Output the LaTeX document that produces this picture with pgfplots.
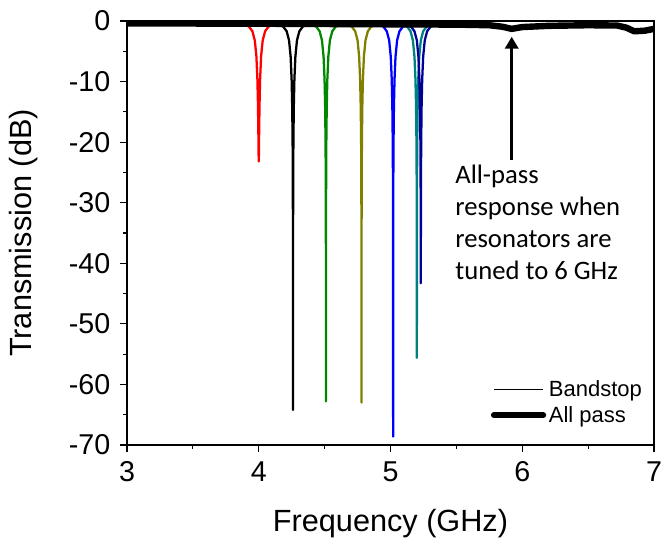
\documentclass[border=0pt]{standalone}
\usepackage{pgfplots}
\pgfplotsset{compat=1.18}
\usetikzlibrary{arrows.meta}
\usepackage{fontspec}
\setmainfont{Liberation Sans}
\newfontfamily\calib{Carlito}
\definecolor{cgreen}{RGB}{0,135,0}
\definecolor{colive}{RGB}{128,128,0}
\definecolor{cteal}{RGB}{0,128,128}
\definecolor{cnavy}{RGB}{0,0,150}
\begin{document}
\begin{tikzpicture}
\begin{axis}[
  scale only axis, width=395.25pt, height=318pt,
  xmin=3, xmax=7, ymin=-70, ymax=0,
  xtick={3,4,5,6,7}, ytick={-70,-60,-50,-40,-30,-20,-10,0},
  minor x tick num=1, minor y tick num=1,
  tick align=outside, xtick pos=bottom, ytick pos=left,
  major tick length=5.5pt, minor tick length=3pt,
  axis line style={line width=1pt},
  tick style={black, line width=0.9pt},
  /pgf/number format/assume math mode=true,
  ticklabel style={font=\fontsize{21.5}{25}\selectfont},
  yticklabel style={xshift=-3.5pt},
  xticklabel style={yshift=-3.5pt},
  xlabel={Frequency (GHz)}, ylabel={Transmission (dB)},
  label style={font=\fontsize{23}{27}\selectfont},
  xlabel style={at={(axis description cs:0.5,-0.185)}, anchor=center},
  ylabel style={at={(axis description cs:-0.196,0.5)}, anchor=center},
  legend style={at={(axis description cs:0.69,0.158)}, anchor=north west, draw=none, fill=none,
    font=\fontsize{16.5}{19}\selectfont, row sep=1.5pt, inner sep=0pt},
  legend cell align=left,
  legend image code/.code={\draw[#1] (0pt,0pt)--(37pt,0pt);},
  every axis plot/.append style={line join=round},
]
% red
\addplot[red, line width=1.7pt, forget plot] coordinates {
(3.64,-0.4)(3.79,-0.45)(3.88,-0.6)(3.925,-0.9)(3.952,-1.7)(3.97,-3.2)(3.982,-5.8)(3.9895,-9.5)(3.994,-13.7)(3.997,-18.3)(3.9985,-21.3)(3.9994,-22.7)(3.9997,-23.0)(4.00,-23.2)(4.0003,-23.0)(4.0006,-22.7)(4.0015,-21.3)(4.003,-18.3)(4.006,-13.7)(4.0105,-9.5)(4.018,-5.8)(4.03,-3.2)(4.048,-1.7)(4.075,-0.9)(4.12,-0.6)(4.21,-0.45)(4.36,-0.4)};
% black
\addplot[black, line width=1.7pt, forget plot] coordinates {
(3.90,-0.4)(4.05,-0.45)(4.14,-0.6)(4.185,-0.9)(4.212,-1.7)(4.23,-3.2)(4.242,-5.9)(4.2495,-9.7)(4.254,-14.2)(4.257,-20.0)(4.2585,-26.0)(4.2594,-34.0)(4.2597,-40.0)(4.26,-64.2)(4.2603,-40.0)(4.2606,-34.0)(4.2615,-26.0)(4.263,-20.0)(4.266,-14.2)(4.2705,-9.7)(4.278,-5.9)(4.29,-3.2)(4.308,-1.7)(4.335,-0.9)(4.38,-0.6)(4.47,-0.45)(4.62,-0.4)};
% green
\addplot[cgreen, line width=1.7pt, forget plot] coordinates {
(4.15,-0.4)(4.30,-0.45)(4.39,-0.6)(4.435,-0.9)(4.462,-1.7)(4.48,-3.2)(4.492,-5.9)(4.4995,-9.7)(4.504,-14.2)(4.507,-20.0)(4.5085,-26.0)(4.5094,-34.0)(4.5097,-40.0)(4.51,-62.8)(4.5103,-40.0)(4.5106,-34.0)(4.5115,-26.0)(4.513,-20.0)(4.516,-14.2)(4.5205,-9.7)(4.528,-5.9)(4.54,-3.2)(4.558,-1.7)(4.585,-0.9)(4.63,-0.6)(4.72,-0.45)(4.87,-0.4)};
% olive
\addplot[colive, line width=1.7pt, forget plot] coordinates {
(4.42,-0.4)(4.57,-0.45)(4.66,-0.6)(4.705,-0.9)(4.732,-1.7)(4.75,-3.2)(4.762,-5.9)(4.7695,-9.7)(4.774,-14.2)(4.777,-20.0)(4.7785,-26.0)(4.7794,-34.0)(4.7797,-40.0)(4.78,-63.0)(4.7803,-40.0)(4.7806,-34.0)(4.7815,-26.0)(4.783,-20.0)(4.786,-14.2)(4.7905,-9.7)(4.798,-5.9)(4.81,-3.2)(4.828,-1.7)(4.855,-0.9)(4.90,-0.6)(4.99,-0.45)(5.14,-0.4)};
% blue
\addplot[blue, line width=1.7pt, forget plot] coordinates {
(4.66,-0.4)(4.81,-0.45)(4.90,-0.6)(4.945,-0.9)(4.972,-1.7)(4.99,-3.2)(5.002,-5.9)(5.0095,-9.7)(5.014,-14.2)(5.017,-20.0)(5.0185,-26.0)(5.0194,-34.0)(5.0197,-40.0)(5.02,-68.6)(5.0203,-40.0)(5.0206,-34.0)(5.0215,-26.0)(5.023,-20.0)(5.026,-14.2)(5.0305,-9.7)(5.038,-5.9)(5.05,-3.2)(5.068,-1.7)(5.095,-0.9)(5.14,-0.6)(5.23,-0.45)(5.38,-0.4)};
% teal
\addplot[cteal, line width=1.7pt, forget plot] coordinates {
(4.84,-0.4)(4.99,-0.45)(5.08,-0.6)(5.125,-0.9)(5.152,-1.7)(5.17,-3.2)(5.182,-5.9)(5.1895,-9.7)(5.194,-14.2)(5.197,-20.0)(5.1985,-26.0)(5.1994,-34.0)(5.1997,-39.9)(5.20,-55.6)(5.2003,-39.9)(5.2006,-34.0)(5.2015,-26.0)(5.203,-20.0)(5.206,-14.2)(5.2105,-9.7)(5.218,-5.9)(5.23,-3.2)(5.248,-1.7)(5.275,-0.9)(5.32,-0.6)(5.41,-0.45)(5.56,-0.4)};
% navy
\addplot[cnavy, line width=1.7pt, forget plot] coordinates {
(4.87,-0.4)(5.02,-0.45)(5.11,-0.6)(5.155,-0.9)(5.182,-1.7)(5.20,-3.2)(5.212,-5.9)(5.2195,-9.7)(5.224,-14.2)(5.227,-20.0)(5.2285,-25.9)(5.2294,-33.5)(5.2297,-38.4)(5.23,-43.3)(5.2303,-38.4)(5.2306,-33.5)(5.2315,-25.9)(5.233,-20.0)(5.236,-14.2)(5.2405,-9.7)(5.248,-5.9)(5.26,-3.2)(5.278,-1.7)(5.305,-0.9)(5.35,-0.6)(5.44,-0.45)(5.59,-0.4)};
% all pass
\addplot[black, line width=4.8pt, forget plot] coordinates {
(3.0,-0.4)(3.5,-0.42)(4.0,-0.45)(4.5,-0.5)(5.0,-0.55)(5.5,-0.6)(5.75,-0.7)(5.85,-0.95)(5.92,-1.3)(6.0,-1.0)(6.2,-0.8)(6.5,-0.7)(6.72,-0.75)(6.79,-1.1)(6.85,-1.7)(6.93,-1.6)(7.0,-1.3)};
\addlegendimage{black, line width=0.75pt}
\addlegendentry{Bandstop}
\addlegendimage{black, line width=4.5pt, line cap=round}
\addlegendentry{All pass}
\draw[-{Triangle[width=10pt,length=9pt]}, line width=2.2pt] (axis cs:5.92,-23) -- (axis cs:5.92,-2.6);
\node[anchor=north west, align=left, inner sep=0pt, font=\calib\fontsize{20}{24}\selectfont] at (axis cs:5.49,-23.8) {All-pass\\response when\\resonators are\\tuned to 6 GHz};
\end{axis}
\pgfresetboundingbox
\path ([shift={(-95.25pt,-70.5pt)}]current axis.south west) rectangle ([shift={(6pt,15.75pt)}]current axis.north east);
\end{tikzpicture}
\end{document}
